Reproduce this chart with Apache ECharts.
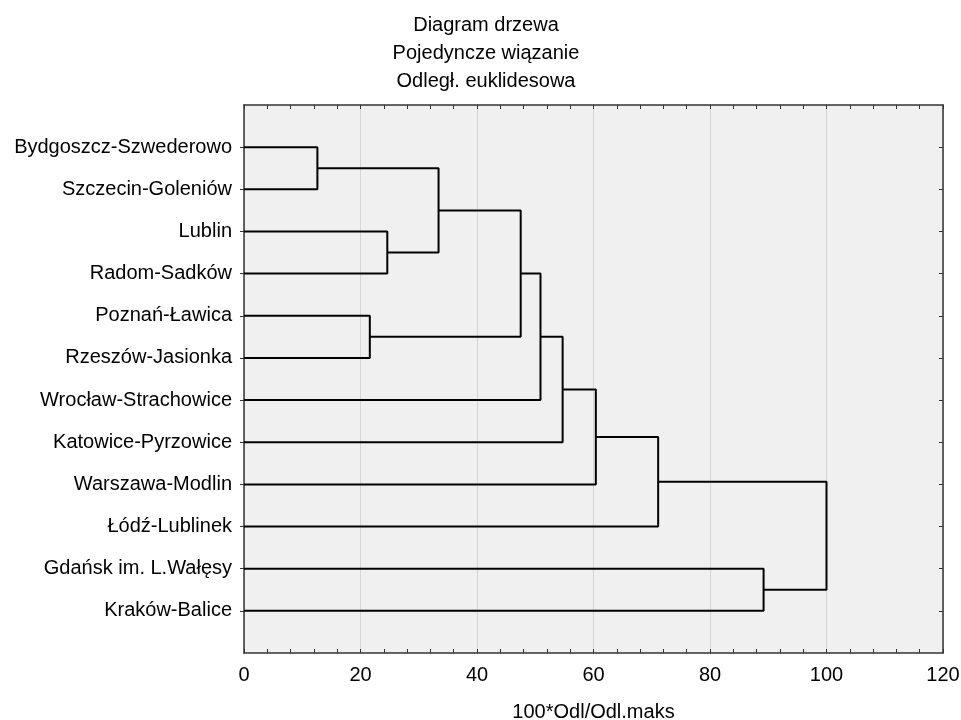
<!DOCTYPE html>
<html>
<head>
<meta charset="utf-8">
<script src="https://cdn.jsdelivr.net/npm/echarts@6/dist/echarts.min.js"></script>
<style>html,body{margin:0;padding:0;background:#fff}#c{width:961px;height:720px}</style>
</head>
<body>
<div id="c"></div>
<script>
// Leaves (top to bottom)
const categories = ["Bydgoszcz-Szwederowo","Szczecin-Goleniów","Lublin","Radom-Sadków","Poznań-Ławica","Rzeszów-Jasionka","Wrocław-Strachowice","Katowice-Pyrzowice","Warszawa-Modlin","Łódź-Lublinek","Gdańsk im. L.Wałęsy","Kraków-Balice"];
// Linkage: nodes 0..11 are leaves, merge k creates node 12+k
const mergeLeft   = [0, 2, 12, 4, 14, 16, 17, 18, 19, 10, 20];
const mergeRight  = [1, 3, 13, 5, 15, 6, 7, 8, 9, 11, 21];
const mergeHeight = [12.6, 24.6, 33.4, 21.6, 47.5, 50.9, 54.7, 60.4, 71.1, 89.2, 100];
const xTicks = [0, 20, 40, 60, 80, 100, 120];

const n = categories.length;
const nodeY = categories.map((_, i) => i + 1);
const nodeH = categories.map(() => 0);
const series = [];
for (let k = 0; k < mergeHeight.length; k++) {
  const a = mergeLeft[k], b = mergeRight[k], h = mergeHeight[k];
  series.push({
    type: 'line', symbol: 'none', animation: false,
    lineStyle: { color: '#000', width: 2 },
    data: [[nodeH[a], nodeY[a]], [h, nodeY[a]], [h, nodeY[b]], [nodeH[b], nodeY[b]]]
  });
  nodeY.push((nodeY[a] + nodeY[b]) / 2);
  nodeH.push(h);
}

const font = 'Liberation Sans, Arial, sans-serif';
const chart = echarts.init(document.getElementById('c'), null, { renderer: 'canvas' });
const leafPos = categories.map((_, i) => i + 1);
const axisLineStyle = { color: '#333', width: 1.5 };
chart.setOption({
  animation: false,
  backgroundColor: '#fff',
  title: {
    text: 'Diagram drzewa\nPojedyncze wiązanie\nOdległ. euklidesowa',
    left: 486, top: 11, textAlign: 'center', padding: 0,
    textStyle: { fontFamily: font, fontSize: 20, fontWeight: 'normal', color: '#000', lineHeight: 28 }
  },
  grid: { left: 244, right: 18, top: 105, bottom: 67, show: true, backgroundColor: '#f0f0f0', borderWidth: 0,
    containLabel: false, outerBoundsMode: 'none' },
  xAxis: [{
    type: 'value', position: 'bottom', min: xTicks[0], max: xTicks[xTicks.length - 1], interval: 20,
    name: '100*Odl/Odl.maks', nameLocation: 'middle', nameGap: 49,
    nameTextStyle: { fontFamily: font, fontSize: 20, color: '#000' },
    axisLine: { show: true, onZero: false, lineStyle: axisLineStyle },
    axisTick: { show: true, inside: true, length: 4, lineStyle: { color: '#333' } },
    minorTick: { show: true, splitNumber: 5, length: 4, lineStyle: { color: '#333' } },
    axisLabel: { fontFamily: font, fontSize: 20, color: '#000', margin: 12 },
    splitLine: { show: true, lineStyle: { color: '#d6d6d6', width: 1 } }
  }, {
    type: 'value', position: 'top', min: 0, max: 120, interval: 20,
    axisLine: { show: true, onZero: false, lineStyle: axisLineStyle },
    axisTick: { show: true, inside: true, length: 4, lineStyle: { color: '#333' } },
    minorTick: { show: true, splitNumber: 5, length: 4, lineStyle: { color: '#333' } },
    axisLabel: { show: false }, splitLine: { show: false }
  }],
  yAxis: [{
    type: 'value', position: 'left', inverse: true, min: 0, max: n + 1, interval: 1,
    axisLine: { show: true, onZero: false, lineStyle: axisLineStyle },
    axisTick: { show: true, inside: false, length: 4, customValues: leafPos, lineStyle: { color: '#333' } },
    axisLabel: { fontFamily: font, fontSize: 20, color: '#000', margin: 12, customValues: leafPos,
      formatter: v => categories[Math.round(v) - 1] || '' },
    splitLine: { show: false }
  }, {
    type: 'value', position: 'right', inverse: true, min: 0, max: n + 1, interval: 1,
    axisLine: { show: true, onZero: false, lineStyle: axisLineStyle },
    axisTick: { show: true, inside: true, length: 4, customValues: leafPos, lineStyle: { color: '#333' } },
    axisLabel: { show: false }, splitLine: { show: false }
  }],
  series: series
});
</script>
</body>
</html>
